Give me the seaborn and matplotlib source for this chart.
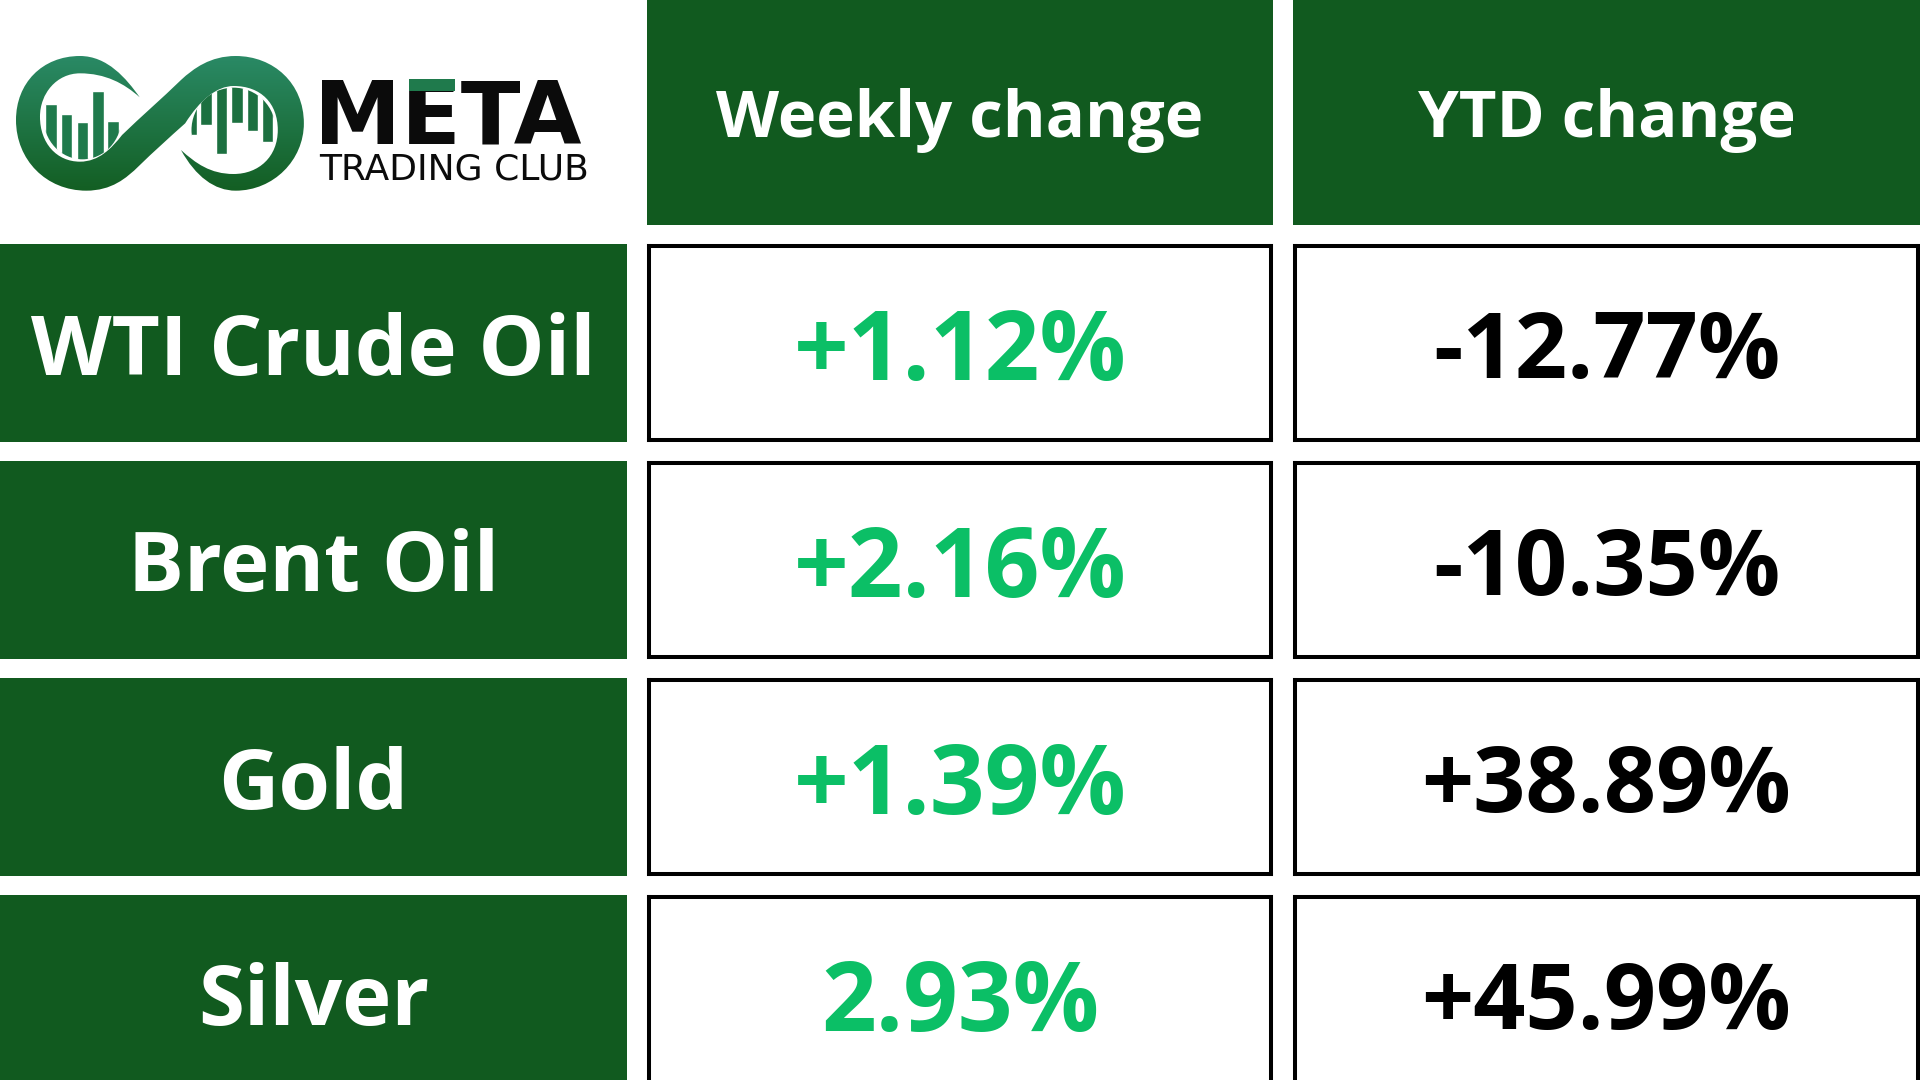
import numpy as np
import pandas as pd
import matplotlib
matplotlib.use("Agg")
import matplotlib.pyplot as plt
import seaborn as sns
from matplotlib.colors import ListedColormap, LinearSegmentedColormap
from matplotlib.path import Path
from matplotlib.patches import PathPatch, Ellipse, Rectangle

W, H = 1920, 1080

assets = ["WTI Crude Oil", "Brent Oil", "Gold", "Silver"]
columns = ["Weekly change", "YTD change"]
weekly_labels = ["+1.12%", "+2.16%", "+1.39%", "2.93%"]
ytd_labels = ["-12.77%", "-10.35%", "+38.89%", "+45.99%"]

DARK_GREEN = "#115A1F"
VALUE_GREEN = "#0BBF66"

# logo bars, in zoomed logo coordinates
left_bar_x = [108, 145, 182, 219, 255, 292]
left_bar_top = [312, 342, 366, 274, 362, 330]
right_bar_x = [440, 476, 513, 550, 587, 622]
right_bar_bottom = [406, 374, 463, 370, 394, 426]

sns.set_theme(style="white")
plt.rcParams["font.family"] = ["Open Sans", "DejaVu Sans"]


def add_cell(fig, box, label, face, text_color, size, weight, border=False):
    x0, y0, x1, y1 = box
    ax = fig.add_axes([x0 / W, 1 - y1 / H, (x1 - x0) / W, (y1 - y0) / H])
    sns.heatmap(
        pd.DataFrame([[0]]),
        annot=np.array([[label]]),
        fmt="",
        cmap=ListedColormap([face]),
        cbar=False,
        xticklabels=False,
        yticklabels=False,
        annot_kws={"fontsize": size, "fontweight": weight, "color": text_color, "va": "center_baseline"},
        ax=ax,
    )
    if border:
        for spine in ax.spines.values():
            spine.set_visible(True)
            spine.set_color("black")
            spine.set_linewidth(2.9)
    return ax


def draw_logo(fig):
    ax = fig.add_axes([0, 1 - 244 / H, 647 / W, 244 / H])
    # zoomed crop was 2.376x wide and 3x tall
    xlim = (0, 647 * 2.376)
    ylim = (244 * 3, 0)

    M, C, Z = Path.MOVETO, Path.CURVE4, Path.CLOSEPOLY
    verts = [
        (332, 292),
        (300, 235), (255, 168), (190, 168),
        (100, 168), (38, 250), (38, 360),
        (38, 480), (110, 572), (205, 572),
        (265, 572), (300, 535), (330, 498),
        (365, 455), (400, 415), (440, 370),
        (475, 300), (515, 258), (555, 258),
        (620, 258), (660, 310), (660, 390),
        (660, 470), (615, 522), (555, 522),
        (500, 522), (465, 490), (430, 450),
        (465, 530), (510, 572), (560, 572),
        (650, 572), (722, 480), (722, 370),
        (722, 250), (650, 168), (560, 168),
        (500, 168), (460, 205), (430, 240),
        (385, 295), (335, 350), (290, 405),
        (265, 445), (235, 485), (190, 485),
        (135, 485), (95, 430), (95, 350),
        (95, 280), (135, 220), (190, 220),
        (250, 220), (295, 250), (332, 292),
        (332, 292),
    ]
    codes = [M] + [C] * (len(verts) - 2) + [Z]
    band = PathPatch(Path(verts, codes), facecolor="none", edgecolor="none")
    ax.add_patch(band)

    gradient = LinearSegmentedColormap.from_list("logo", ["#2A8A66", "#135E22"])
    img = ax.imshow(
        np.linspace(0, 1, 256).reshape(-1, 1),
        cmap=gradient,
        extent=(30, 730, 575, 165),
        aspect="auto",
        zorder=1,
    )
    img.set_clip_path(band)
    ax.set_xlim(*xlim)
    ax.set_ylim(*ylim)
    ax.axis("off")

    left_clip = Ellipse((196, 352), 186, 252, transform=ax.transData)
    for x, top in zip(left_bar_x, left_bar_top):
        bar = ax.bar(x, 600 - top, width=27, bottom=top, align="edge", color="#1F7A4C", zorder=0.5)
        bar[0].set_clip_path(left_clip)
    right_clip = Ellipse((555, 390), 200, 254, transform=ax.transData)
    for x, bottom in zip(right_bar_x, right_bar_bottom):
        bar = ax.bar(x, bottom - 200, width=27, bottom=200, align="edge", color="#1C7040", zorder=0.5)
        bar[0].set_clip_path(right_clip)

    ax.text(745, 430, "META", fontsize=63, fontweight="bold", family="DejaVu Sans",
            color="#0B0B0B", ha="left", va="baseline", zorder=3)
    # green top stroke of the E
    ax.add_patch(Rectangle((972, 238), 110, 36, color="#1F7A4C", lw=0, zorder=4))
    ax.text(758, 538, "TRADING CLUB", fontsize=26, family="DejaVu Sans",
            color="#0B0B0B", ha="left", va="baseline", zorder=3)


def main():
    fig = plt.figure(figsize=(W / 100, H / 100), dpi=100, facecolor="white")

    col_x = [(647, 1273), (1293, 1920)]
    row_y = [(244, 442), (461, 659), (678, 876), (895, 1093)]

    for (x0, x1), name in zip(col_x, columns):
        add_cell(fig, (x0, 0, x1, 225), name, DARK_GREEN, "white", 47, "bold")

    for (y0, y1), asset in zip(row_y, assets):
        add_cell(fig, (0, y0, 627, y1), asset, DARK_GREEN, "white", 60, "bold")

    for (y0, y1), label in zip(row_y, weekly_labels):
        add_cell(fig, (649, y0 + 2, 1271, y1 - 2), label, "white", VALUE_GREEN, 69, "bold", border=True)

    for (y0, y1), label in zip(row_y, ytd_labels):
        add_cell(fig, (1295, y0 + 2, 1918, y1 - 2), label, "white", "black", 66, "bold", border=True)

    draw_logo(fig)
    fig.savefig("out.png", dpi=100)


if __name__ == "__main__":
    main()
